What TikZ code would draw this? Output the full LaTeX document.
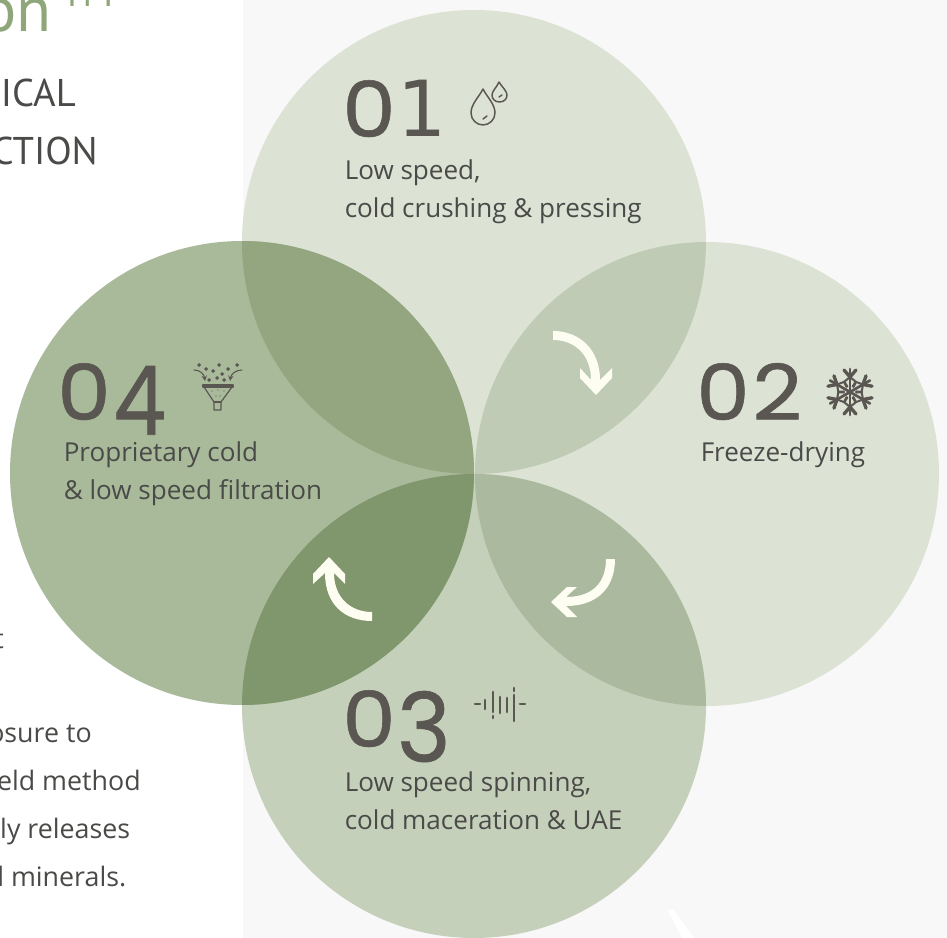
\documentclass[tikz,border=0pt]{standalone}
\usepackage{fontspec}
\usepackage{graphicx}
\setmainfont{Open Sans}
\newfontfamily\numfont[FakeBold=0.7]{Poppins}
\newfontfamily\onefont{DejaVu Sans}
\newfontfamily\headfont{PT Sans}
\definecolor{inkc}{HTML}{4A4A48}
\definecolor{numc}{HTML}{5A5651}
\definecolor{greenc}{HTML}{8FA67A}
\definecolor{bgc}{HTML}{F8F8F8}
\definecolor{ctop}{HTML}{DCE2D4}
\definecolor{cbot}{HTML}{C5D0BA}
\definecolor{cleft}{HTML}{A9BA9A}
\definecolor{otr}{HTML}{BFCBB4}
\definecolor{orb}{HTML}{ABB99E}
\definecolor{otl}{HTML}{93A67F}
\definecolor{obl}{HTML}{80966C}
\definecolor{arrowc}{HTML}{FEFDF2}
\tikzset{
 lab/.style={anchor=base west,inner sep=0pt,font=\fontsize{19.55}{19.55}\selectfont,text=inkc},
 numlab/.style={anchor=base west,inner sep=0pt,font=\fontsize{58}{58}\selectfont\numfont,text=numc},
 side/.style={anchor=base east,inner sep=0pt,font=\fontsize{20.1}{20.1}\selectfont,text=inkc},
 head/.style={anchor=base east,inner sep=0pt,font=\fontsize{29}{29}\selectfont\headfont,text=inkc},
 icon/.style={draw=numc,line width=1.1pt,line cap=round,line join=round},
 solidicon/.style={draw=numc,line width=2.5pt,line cap=round},
 wave/.style={draw=numc,line width=2pt,line cap=round},
 arrowshape/.style={fill=arrowc},
}
\newcommand{\zeroG}{\scalebox{1.1}[1]{0}}
\begin{document}
\begin{tikzpicture}[x=0.75pt,y=-0.75pt]
\useasboundingbox (0,0) rectangle (947,938);
\fill[white] (0,0) rectangle (947,938);
\fill[bgc] (243,0) rectangle (947,938);
\fill[white] (668,911) -- (673,909) -- (694,938) -- (682,938) -- cycle;
% circles
\coordinate (ctt) at (474,242);
\coordinate (crr) at (707,474);
\coordinate (cbb) at (474,706);
\coordinate (cll) at (242,473);
\fill[ctop] (ctt) circle (232);
\fill[ctop] (crr) circle (232);
\fill[cbot] (cbb) circle (232);
\fill[cleft] (cll) circle (232);
\begin{scope}\clip (ctt) circle (232); \fill[otr] (crr) circle (232); \fill[otl] (cll) circle (232); \end{scope}
\begin{scope}\clip (cbb) circle (232); \fill[orb] (crr) circle (232); \fill[obl] (cll) circle (232); \end{scope}
% side texts
\node[anchor=base east,inner sep=0pt,font=\fontsize{48}{48}\selectfont\headfont,text=greenc] (title) at (52,32) {on};
\node[anchor=base west,inner sep=0pt,font=\fontsize{29}{29}\selectfont\headfont,text=greenc] (tm) at (61,7) {TM};
\node[head] (h1) at (76,107) {ICAL};
\node[head] (h2) at (98,165) {CTION};
\node[side] (s0) at (4,648) {t};
\node[side] (s1) at (92,742) {osure to};
\node[side] (s2) at (141,790) {eld method};
\node[side] (s3) at (130.5,838) {ly releases};
\node[side] (s4) at (126.5,886) {l minerals.};
% numbers
\node[numlab] (n1) at (342,137) {\zeroG\hspace{1pt}{\onefont 1}};
\node[numlab] (n2) at (696,420) {\zeroG\hspace{2pt}\scalebox{1.12}[1]{2}};
\node[numlab] (n3) at (342,747) {\zeroG\hspace{1pt}\raisebox{-11pt}{\scalebox{1.18}[1.24]{3}}};
\node[numlab] (n4) at (57,420) {\zeroG\hspace{2pt}\raisebox{-11pt}{\scalebox{1.08}[1.24]{4}}};
% labels
\node[lab] (l1a) at (344.5,180) {Low speed,};
\node[lab] (l1b) at (344.5,218) {cold crushing \& pressing};
\node[lab] (l2) at (700.5,461) {Freeze-drying};
\node[lab] (l3a) at (344.5,791) {Low speed spinning,};
\node[lab] (l3b) at (344.5,829) {cold maceration \& UAE};
\node[lab] (l4a) at (63.5,461) {Proprietary cold};
\node[lab] (l4b) at (63.5,499) {\& low speed filtration};
% arrows
\fill[arrowshape] (553,331) .. controls (580,331) and (600,350) .. (600,380) -- (612,368) -- (612,378) -- (596,395) -- (580,378) -- (580,368) -- (591,380) .. controls (591,355) and (575,340) .. (553,340) -- cycle;
\fill[arrowshape] (606,559) .. controls (606,585) and (590,597) .. (566,597) -- (577,587) -- (567,587) -- (551,602) -- (567,617) -- (577,617) -- (566,606) .. controls (595,606) and (615,590) .. (615,559) -- cycle;
\fill[arrowshape] (372,621) .. controls (345,621) and (325,605) .. (325,573) -- (313,584) -- (313,574) -- (329,557) -- (345,574) -- (345,584) -- (334,573) .. controls (334,597) and (350,612) .. (372,612) -- cycle;
% drops
\draw[icon] (483,89) .. controls (479,97) and (471,104) .. (471,113) .. controls (471,120) and (477,125) .. (483,125) .. controls (489,125) and (495,120) .. (495,113) .. controls (495,104) and (487,97) .. (483,89) -- cycle;
\draw[icon] (483,119) -- (487,116);
\draw[icon] (499,82) .. controls (497,87) and (492,91) .. (492,95) .. controls (492,99) and (495,102) .. (499.5,102) .. controls (504,102) and (507,99) .. (507,95) .. controls (507,91) and (502,87) .. (499,82) -- cycle;
\draw[icon] (499,97) -- (502,95);
% snowflake
\foreach \a in {0,60,...,300}{
 \begin{scope}[shift={(850,392)},rotate=\a+30]
  \draw[solidicon,line width=2pt] (0,0) -- (23,0);
  \draw[solidicon] (15,0) -- (22,-6) (15,0) -- (22,6);
  \draw[solidicon,line width=1.5pt,line join=round] (5,-3.5) -- (10,-6) -- (15,0) -- (10,6) -- (5,3.5);
 \end{scope}}
% sound wave
\draw[wave] (475,704) -- (480,704);
\draw[wave] (485,700) -- (485,709);
\draw[wave] (493,692) -- (493,712) (493,716) -- (493,718);
\draw[wave] (500,697) -- (500,713);
\draw[wave] (507,698) -- (507,712);
\draw[wave] (514,688) -- (514,691) (514,695) -- (514,721);
\draw[wave] (520,704) -- (525,704);
% funnel
\draw[icon,line width=1pt] (203,385) -- (233,385) -- (233,387) -- (203,387) -- cycle;
\draw[icon,line width=0.9pt] (204,387) -- (214,402) -- (214,410) -- (221,410) -- (221,402) -- (232,387);
\draw[icon,line width=0.9pt] (214,402) -- (221,402);
\draw[icon,line width=0.8pt,->,>=stealth] (194,370) .. controls (200,370) and (204,374) .. (205,381);
\draw[icon,line width=0.8pt,->,>=stealth] (242,370) .. controls (236,370) and (231,374) .. (230,381);
\foreach \xx/\yy in {199/365,206/369,213/371,219/365,228/369,237/365,222/374,209/380,217/378,224/380}{
 \fill[numc] (\xx,\yy-2) -- (\xx+2,\yy) -- (\xx,\yy+2) -- (\xx-2,\yy) -- cycle;}
\foreach \xx/\yy in {212/391,218/390,224/391,216/396,220/396}{
 \fill[numc] (\xx,\yy) circle (0.6);}
\end{tikzpicture}
\end{document}
